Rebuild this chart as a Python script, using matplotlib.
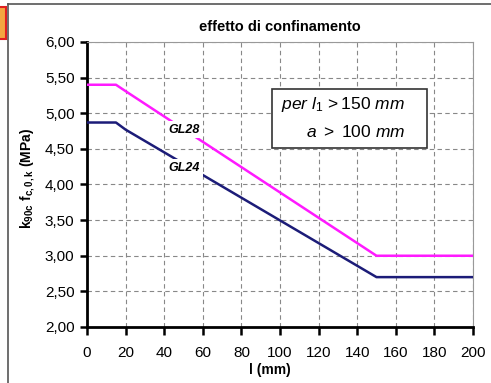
import matplotlib
matplotlib.use("Agg")
import matplotlib.pyplot as plt
from matplotlib.lines import Line2D
from matplotlib.patches import Rectangle
from matplotlib.ticker import FuncFormatter

plt.rcParams['font.family'] = ['Liberation Sans', 'DejaVu Sans']
plt.rcParams['mathtext.fontset'] = 'custom'
plt.rcParams['mathtext.rm'] = 'Liberation Sans'
plt.rcParams['mathtext.it'] = 'Liberation Sans:italic'
plt.rcParams['mathtext.bf'] = 'Liberation Sans:bold'

# Confinement factor curves: length l (mm) vs k90c * fc,0,k (MPa)
l_gl28 = [0, 15, 20, 150, 200]
k_gl28 = [5.40, 5.40, 5.31, 3.00, 3.00]
l_gl24 = [0, 15, 20, 150, 200]
k_gl24 = [4.87, 4.87, 4.77, 2.70, 2.70]

x_ticks = [0, 20, 40, 60, 80, 100, 120, 140, 160, 180, 200]
y_ticks = [2.0, 2.5, 3.0, 3.5, 4.0, 4.5, 5.0, 5.5, 6.0]

fig = plt.figure(figsize=(4.91, 3.83), dpi=100)
ax = fig.add_axes([87 / 491, 56 / 383, 386 / 491, 285 / 383])

ax.plot(l_gl28, k_gl28, color='#ff1aff', lw=1.8, zorder=3)
ax.plot(l_gl24, k_gl24, color='#1c1c78', lw=1.8, zorder=3)

ax.text(50.3, 4.77, 'GL28', fontsize=9, fontweight='bold', style='italic',
        ha='center', va='center', zorder=4,
        bbox=dict(facecolor='white', edgecolor='none', pad=2))
ax.text(50.3, 4.23, 'GL24', fontsize=9, fontweight='bold', style='italic',
        ha='center', va='center', zorder=4,
        bbox=dict(facecolor='white', edgecolor='none', pad=2))

# Note box with validity conditions
ax.add_patch(Rectangle((95.7, 4.51), 80.6, 0.83, facecolor='white',
                       edgecolor='#333333', lw=1.2, zorder=4))
ax.text(164.8, 5.12, r'$per\ l_1\,{>}150\ mm$', fontsize=12.5, ha='right',
        va='center', zorder=5)
ax.text(164.8, 4.74, r'$a\ {>}\ 100\ mm$', fontsize=12.5, ha='right',
        va='center', zorder=5)

ax.set_xlim(0, 200)
ax.set_ylim(2.0, 6.0)
ax.set_xticks(x_ticks)
ax.set_yticks(y_ticks)
ax.yaxis.set_major_formatter(FuncFormatter(lambda v, p: f'{v:.2f}'.replace('.', ',')))
ax.grid(True, color='#888888', ls=(0, (4, 3)), lw=0.8)
ax.set_axisbelow(True)

for s in ['left', 'bottom']:
    ax.spines[s].set_linewidth(2.0)
    ax.spines[s].set_color('black')
for s in ['top', 'right']:
    ax.spines[s].set_linewidth(0.8)
    ax.spines[s].set_color('#999999')
ax.tick_params(axis='both', direction='out', length=5, width=1.8,
               labelsize=11, colors='black', pad=4)
ax.tick_params(axis='x', length=6, pad=8)

ax.set_title('effetto di confinamento', fontsize=10.5, fontweight='bold', pad=8)
ax.set_xlabel('l (mm)', fontsize=10, fontweight='bold')
ax.set_ylabel(r'k$_{\mathbf{90c}}$ f$_{\mathbf{c,0,k}}$ (MPa)', fontsize=10,
              fontweight='bold')
ax.xaxis.set_label_coords(0.474, -0.126)
ax.yaxis.set_label_coords(-0.13, 0.523)

# Page frame and margin marker
fig.add_artist(Line2D([8 / 491, 8 / 491], [0, 1 - 4 / 383],
                      transform=fig.transFigure, color='#555555', lw=1.2))
fig.add_artist(Line2D([8 / 491, 1], [1 - 4 / 383, 1 - 4 / 383],
                      transform=fig.transFigure, color='#555555', lw=1.2))
fig.add_artist(Rectangle((-2 / 491, 1 - 39 / 383), 8 / 491, 32 / 383,
                         transform=fig.transFigure, facecolor='#f4a640',
                         edgecolor='#e02020', lw=1.5))

fig.savefig('out.png', dpi=100)
